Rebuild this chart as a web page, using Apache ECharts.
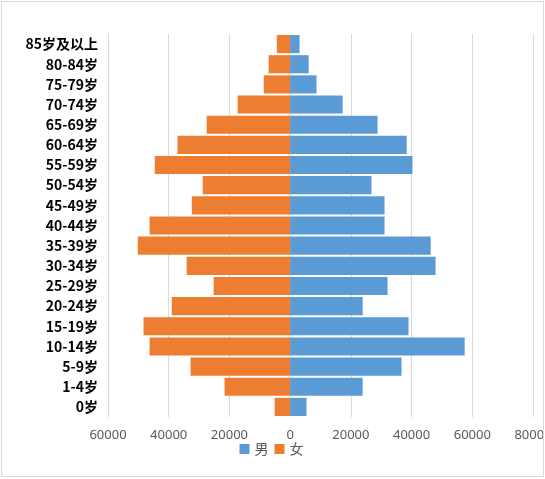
<!DOCTYPE html>
<html>
<head>
<meta charset="utf-8">
<script src="https://cdn.jsdelivr.net/npm/echarts@6/dist/echarts.min.js"></script>
<style>
html,body{margin:0;padding:0;background:#fff;}
#wrap{position:relative;width:545px;height:479px;overflow:hidden;}
#chart{position:absolute;left:0;top:0;width:543px;height:479px;}
#frame{position:absolute;left:1px;top:1px;width:541px;height:474px;border:1px solid #d9d9d9;pointer-events:none;}
</style>
</head>
<body>
<div id="wrap"><div id="chart"></div><div id="frame"></div></div>
<script>
var categories = ['0岁','1-4岁','5-9岁','10-14岁','15-19岁','20-24岁','25-29岁','30-34岁','35-39岁','40-44岁','45-49岁','50-54岁','55-59岁','60-64岁','65-69岁','70-74岁','75-79岁','80-84岁','85岁及以上'];
var male = [5400,23900,36700,57500,39000,23900,32100,47900,46300,31100,31100,26800,40300,38400,28800,17300,8700,6100,3100];
var female = [5100,21600,32800,46300,48300,39000,25200,34100,50200,46300,32400,28800,44600,37100,27500,17300,8700,7100,4400];
var axisMin = -60000, axisMax = 80000, axisStep = 20000;

var chart = echarts.init(document.getElementById('chart'));
chart.setOption({
  animation: false,
  grid: {left: 108, top: 34, width: 425, height: 383, containLabel: false, outerBoundsMode: 'none'},
  legend: {
    data: ['男','女'], bottom: 18, left: 'center',
    itemWidth: 10, itemHeight: 10, itemGap: 6,
    icon: 'rect',
    textStyle: {color: '#595959', fontSize: 14, fontFamily: 'Noto Sans CJK SC'}
  },
  xAxis: {
    type: 'value', min: axisMin, max: axisMax, interval: axisStep,
    axisLine: {show: false}, axisTick: {show: false},
    splitLine: {lineStyle: {color: '#d9d9d9', width: 1}},
    axisLabel: {
      color: '#595959', fontSize: 13, fontFamily: 'Noto Sans', margin: 12,
      formatter: function (v) { return String(Math.abs(v)); }
    }
  },
  yAxis: {
    type: 'category', data: categories,
    axisLine: {show: false, onZero: false}, axisTick: {show: false},
    axisLabel: {color: '#000', fontSize: 14, fontWeight: 'bold', fontFamily: 'Noto Sans CJK SC', margin: 10}
  },
  series: [
    {name: '男', type: 'bar', stack: 'p', data: male, barCategoryGap: '10%',
     itemStyle: {color: '#5B9BD5'}},
    {name: '女', type: 'bar', stack: 'p', data: female.map(function (v) { return -v; }),
     itemStyle: {color: '#ED7D31'}}
  ]
});
</script>
</body>
</html>
